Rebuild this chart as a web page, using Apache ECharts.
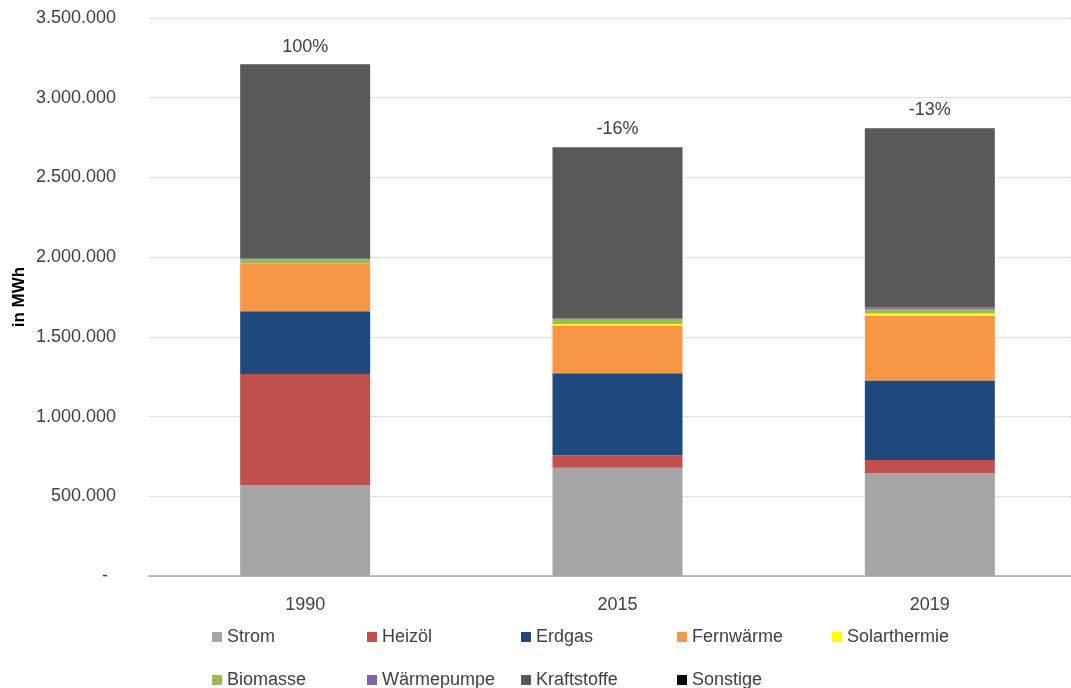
<!DOCTYPE html>
<html>
<head>
<meta charset="utf-8">
<script src="https://cdn.jsdelivr.net/npm/echarts@6/dist/echarts.min.js"></script>
<style>
  html, body { margin: 0; padding: 0; background: #ffffff; }
  #chart { width: 1071px; height: 688px; }
</style>
</head>
<body>
<div id="chart"></div>
<script>
// ---- Data ----
const years = ['1990', '2015', '2019'];
const seriesNames = ['Strom', 'Heizöl', 'Erdgas', 'Fernwärme', 'Solarthermie', 'Biomasse', 'Wärmepumpe', 'Kraftstoffe', 'Sonstige'];
const strom        = [571000, 679000, 644000];
const heizoel      = [696000, 78000, 84000];
const erdgas       = [393000, 514000, 499000];
const fernwaerme   = [301000, 297000, 406000];
const solarthermie = [0, 13000, 13000];
const biomasse     = [29000, 31000, 29000];
const waermepumpe  = [0, 4000, 10000];
const kraftstoffe  = [1215000, 1071000, 1119000];
const sonstige     = [3000, 3000, 3000];
const pctLabels    = ['100%', '-16%', '-13%'];
const yTicks       = [0, 500000, 1000000, 1500000, 2000000, 2500000, 3000000, 3500000];

const seriesValues = [strom, heizoel, erdgas, fernwaerme, solarthermie, biomasse, waermepumpe, kraftstoffe, sonstige];
const colors = ['#A5A5A5', '#C0504D', '#1F497D', '#F79646', '#FFFF00', '#9BBB59', '#8064A2', '#595959', '#000000'];

// legend layout (icon left x, top y)
const legendPos = [
  [212, 628], [367, 628], [521, 628], [677, 628], [832, 628],
  [212, 671], [367, 671], [521, 671], [677, 671]
];

const FONT = '"Liberation Sans", Arial, sans-serif';

function deFormat(v) {
  if (v === 0) return '{z|-}';
  return String(v).replace(/\B(?=(\d{3})+(?!\d))/g, '.');
}

const chart = echarts.init(document.getElementById('chart'), null, { renderer: 'canvas' });

const series = seriesNames.map((name, i) => {
  const s = {
    name: name,
    type: 'bar',
    stack: 'total',
    barWidth: 130,
    data: seriesValues[i],
    itemStyle: { color: colors[i] },
    emphasis: { disabled: true },
    animation: false
  };
  if (i === seriesNames.length - 1) {
    s.label = {
      show: true,
      position: 'top',
      distance: 9,
      fontFamily: FONT,
      fontSize: 18,
      color: '#404040',
      formatter: p => pctLabels[p.dataIndex]
    };
  }
  return s;
});

const legends = seriesNames.map((name, i) => ({
  data: [name],
  left: legendPos[i][0],
  top: legendPos[i][1],
  orient: 'horizontal',
  itemWidth: 10,
  itemHeight: 10,
  itemGap: 0,
  icon: 'rect',
  padding: 0,
  selectedMode: false,
  textStyle: { fontFamily: FONT, fontSize: 18, color: '#404040', padding: [0, 0, 0, 0] }
}));

chart.setOption({
  animation: false,
  backgroundColor: '#ffffff',
  legend: legends,
  grid: { left: 149, right: -15, top: 18, bottom: 112, outerBoundsMode: 'none', containLabel: false },
  xAxis: {
    type: 'category',
    data: years,
    axisTick: { show: false },
    axisLine: { show: true, lineStyle: { color: '#A6A6A6', width: 1.5 } },
    axisLabel: { fontFamily: FONT, fontSize: 18, color: '#404040', margin: 20 }
  },
  yAxis: {
    type: 'value',
    min: yTicks[0],
    max: yTicks[yTicks.length - 1],
    interval: yTicks[1] - yTicks[0],
    name: 'in MWh',
    nameLocation: 'middle',
    nameGap: 121,
    nameMoveOverlap: false,
    nameRotate: 90,
    nameTextStyle: { fontFamily: FONT, fontSize: 17, fontWeight: 'bold', color: '#000000' },
    axisLine: { show: false },
    axisTick: { show: false },
    splitLine: { show: true, lineStyle: { color: '#D9D9D9', type: [3, 1], width: 1 } },
    axisLabel: {
      fontFamily: FONT, fontSize: 18, color: '#404040', margin: 33, align: 'right', formatter: deFormat,
      rich: { z: { fontFamily: FONT, fontSize: 18, color: '#404040', padding: [0, 8, 0, 0] } }
    }
  },
  series: series
});
</script>
</body>
</html>
